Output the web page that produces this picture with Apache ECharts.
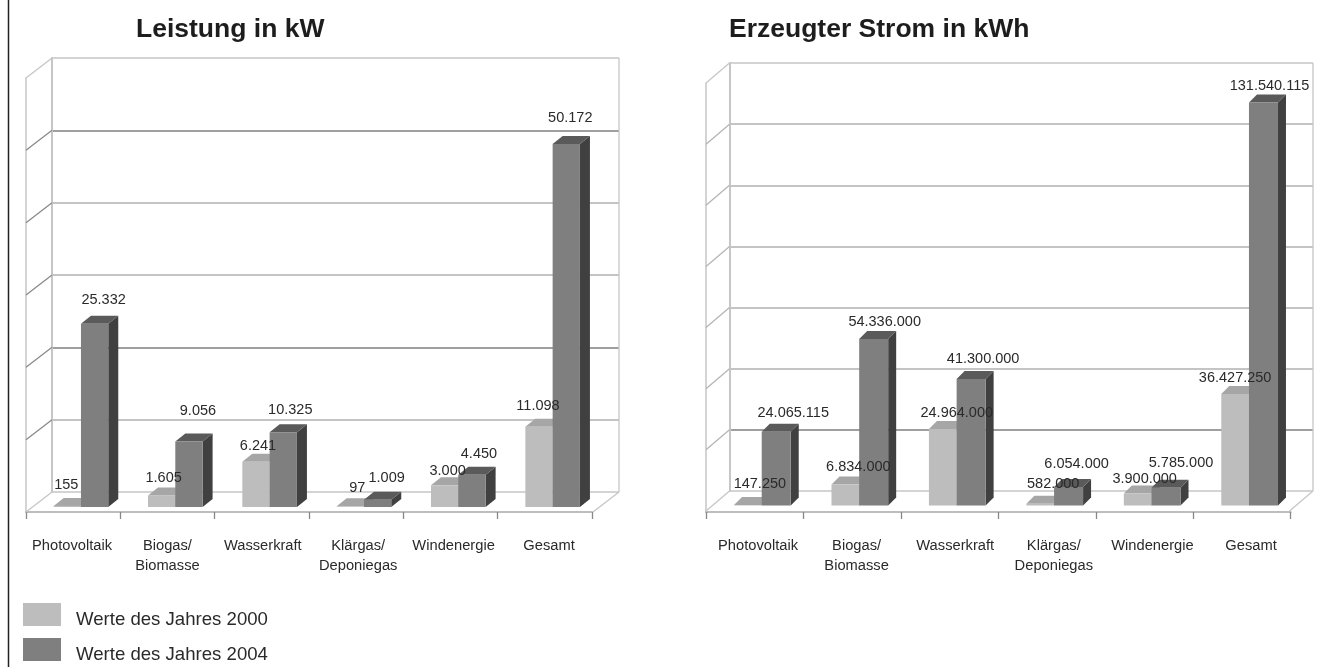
<!DOCTYPE html>
<html><head><meta charset="utf-8">
<style>html,body{margin:0;padding:0;background:#fff}#c{width:1319px;height:667px}</style>
<script src="https://cdn.jsdelivr.net/npm/echarts@6/dist/echarts.min.js"></script>
</head><body><div id="c"></div>
<script>
const categories = ['Photovoltaik','Biogas/\nBiomasse','Wasserkraft','Klärgas/\nDeponiegas','Windenergie','Gesamt'];
const kw2000 = [155,1605,6241,97,3000,11098];
const kw2004 = [25332,9056,10325,1009,4450,50172];
const kwh2000 = [147250,6834000,24964000,582000,3900000,36427250];
const kwh2004 = [24065115,54336000,41300000,6054000,5785000,131540115];
const kwTicks = [0,10000,20000,30000,40000,50000,60000];
const kwhTicks = [0,20000000,40000000,60000000,80000000,100000000,120000000,140000000];
const NAME_A = 'Werte des Jahres 2000', NAME_B = 'Werte des Jahres 2004';

// label nudges (px) relative to each bar's top-front centre
const kwNudgeA = [[-1,-21],[2,-17],[2,-16],[7,-18],[3,-14],[-1,-21]];
const kwNudgeB = [[9,-24],[9,-30],[7,-22],[9,-22],[7,-21],[4,-26]];
const kwhNudgeA = [[12,-21],[13,-18],[14,-16],[13,-20],[7,-15],[0,-16]];
const kwhNudgeB = [[17,-19],[11,-17],[12,-20],[8,-23],[15,-25],[6,-16]];

const fmt = v => String(v).replace(/\B(?=(\d{3})+$)/g,'.');
const TXT = '#2a2a2a', WALL='#c6c6c6';

function barSeries(name, values, gridIdx, nudges, opt){
  return {
    type:'custom', name, xAxisIndex:gridIdx, yAxisIndex:gridIdx, coordinateSystem:'cartesian2d',
    itemStyle:{color:opt.front}, silent:true, clip:false, animation:false,
    encode:{x:0,y:1},
    data: values.map((v,i)=>[i,v]),
    renderItem(params, api){
      const i = api.value(0), v = api.value(1);
      const top = api.coord([i,v]), base = api.coord([i,0]);
      const x0 = top[0] + opt.shift, w = opt.w, d = opt.d, dy = opt.dy;
      const yT = top[1]-opt.lift, yB = base[1]-opt.lift;
      const n = nudges[i];
      return {type:'group',children:[
        {type:'polygon',shape:{points:[[x0+w,yT],[x0+w+d,yT-dy],[x0+w+d,yB-dy],[x0+w,yB]]},style:{fill:opt.side}},
        {type:'polygon',shape:{points:[[x0,yT],[x0+d,yT-dy],[x0+w+d,yT-dy],[x0+w,yT]]},style:{fill:opt.top}},
        {type:'rect',shape:{x:x0,y:yT,width:w,height:yB-yT},style:{fill:opt.front}},
        {type:'text',z2:100,x:x0+w/2+n[0],y:yT+n[1],style:{text:fmt(v),fill:TXT,font:'14.5px "Liberation Sans"',textAlign:'center',textVerticalAlign:'middle'}}
      ]};
    }
  };
}
function wallSeries(ticks, gridIdx, dx, dy, dark){
  return {
    type:'custom', xAxisIndex:gridIdx, yAxisIndex:gridIdx, silent:true, clip:false, animation:false, z:1,
    data: ticks.map(t=>[0,t]),
    renderItem(params, api){
      const v = api.value(1), p = api.coord([0,v]), cs = params.coordSys;
      const kids = [{type:'line',shape:{x1:cs.x,y1:p[1],x2:cs.x-dx,y2:p[1]+dy},style:{stroke:(v===0||v===ticks[ticks.length-1])?WALL:dark,lineWidth:1.3}}];
      if(v===0){
        const xr = cs.x+cs.width;
        kids.push({type:'line',shape:{x1:xr,y1:p[1],x2:xr-dx,y2:p[1]+dy},style:{stroke:WALL,lineWidth:1.3}});
        kids.push({type:'line',shape:{x1:xr,y1:p[1],x2:xr,y2:cs.y},style:{stroke:WALL,lineWidth:1.3}});
      }
      return {type:'group',children:kids};
    }
  };
}
const xHidden = i => ({type:'category',gridIndex:i,data:categories,show:false});
const xFront = i => ({type:'category',gridIndex:i,data:categories,
  axisLine:{show:true,lineStyle:{color:'#bdbdbd',width:2}},
  axisTick:{show:true,length:7,lineStyle:{color:'#888',width:1.3}},
  axisLabel:{show:false}});
const xLabels = i => ({type:'category',gridIndex:i,data:categories,
  axisLine:{show:false},axisTick:{show:false},
  axisLabel:{show:true,color:TXT,fontFamily:'Liberation Sans',fontSize:14.7,lineHeight:20,margin:24,interval:0}});
const yBack = (i,max,itv,colors) => ({type:'value',gridIndex:i,min:0,max,interval:itv,
  axisLine:{show:true,lineStyle:{color:WALL,width:2}},axisTick:{show:false},axisLabel:{show:false},
  splitLine:{show:true,lineStyle:{color:colors,width:1.5}}});
const yFront = (i,max,itv) => ({type:'value',gridIndex:i,min:0,max,interval:itv,
  axisLine:{show:true,lineStyle:{color:WALL,width:1.5}},axisTick:{show:false},axisLabel:{show:false},splitLine:{show:false}});
const yNone = i => ({type:'value',gridIndex:i,show:false,min:0,max:1,splitLine:{show:false}});

const styleA = {shift:-19.5,w:27.3,d:10,dy:8,lift:5,front:'#bdbdbd',top:'#a6a6a6',side:'#8f8f8f'};
const styleB = {shift:7.8,w:27.3,d:10,dy:8,lift:5,front:'#7f7f7f',top:'#5a5a5a',side:'#404040'};
const styleC = {shift:-20.7,w:27.7,d:8,dy:8,lift:6.5,front:'#bdbdbd',top:'#a6a6a6',side:'#8f8f8f'};
const styleD = {shift:7,w:29,d:8,dy:8,lift:6.5,front:'#7f7f7f',top:'#5a5a5a',side:'#404040'};
const titleStyle = {fontFamily:'Liberation Sans',fontWeight:'bold',fontSize:26.5,color:'#1d1d1d'};

const chart = echarts.init(document.getElementById('c'),null,{renderer:'canvas'});
chart.setOption({
  backgroundColor:'#fff', animation:false,
  title:[
    {text:'Leistung in kW',left:131,top:11,textStyle:titleStyle},
    {text:'Erzeugter Strom in kWh',left:724,top:11,textStyle:titleStyle}
  ],
  legend:{orient:'vertical',left:23,top:603,height:64,padding:0,itemWidth:38,itemHeight:23,itemGap:9,icon:'rect',selectedMode:false,
    data:[NAME_A,NAME_B],
    formatter:'{t|{name}}',
    textStyle:{rich:{t:{color:TXT,fontFamily:'Liberation Sans',fontSize:18.6,padding:[10,0,0,10]}}}},
  grid:[
    {left:52,top:58,width:567,height:434},
    {left:26,top:78,width:566,height:434},
    {left:729.5,top:63,width:583.5,height:428},
    {left:706,top:83,width:584.7,height:429},
    {left:24.3,top:78,width:572.4,height:434},
    {left:708.7,top:83,width:591.6,height:429}
  ],
  xAxis:[xHidden(0),xFront(1),xHidden(2),xFront(3),xLabels(4),xLabels(5)],
  yAxis:[
    yBack(0,60000,10000,[WALL,'#b0b0b0','#7f7f7f','#b0b0b0','#b0b0b0','#7f7f7f',WALL]),
    yFront(1,60000,10000),
    yBack(2,140000000,20000000,[WALL,'#7f7f7f','#b0b0b0','#b0b0b0','#b0b0b0','#b0b0b0','#b0b0b0',WALL]),
    yFront(3,140000000,20000000),
    yNone(4),yNone(5)
  ],
  graphic:[{type:'line',silent:true,shape:{x1:8.5,y1:0,x2:8.5,y2:667},style:{stroke:'#222',lineWidth:1.5}}],
  series:[
    wallSeries(kwTicks,0,26,20,'#8a8a8a'),
    wallSeries(kwhTicks,2,23.5,20,'#b5b5b5'),
    barSeries(NAME_A,kw2000,1,kwNudgeA,styleA),
    barSeries(NAME_B,kw2004,1,kwNudgeB,styleB),
    barSeries(NAME_A,kwh2000,3,kwhNudgeA,styleC),
    barSeries(NAME_B,kwh2004,3,kwhNudgeB,styleD)
  ]
});
</script></body></html>
